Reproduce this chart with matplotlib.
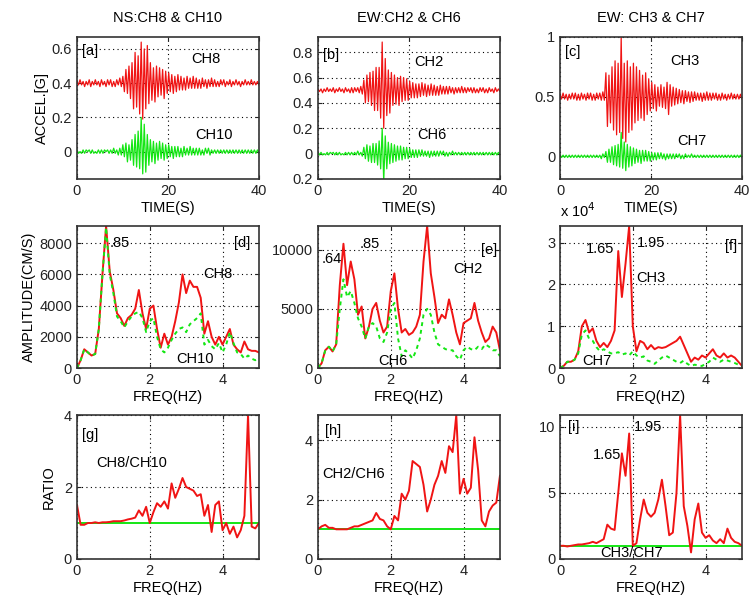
import numpy as np
import matplotlib
matplotlib.use('Agg')
import matplotlib.pyplot as plt

plt.rcParams['font.family'] = ['Liberation Sans', 'DejaVu Sans']
plt.rcParams['font.size'] = 10.5
plt.rcParams['axes.linewidth'] = 1.2

RED = '#f01414'
GREEN = '#14e614'

# acceleration traces (hundredths of g, about the plotting baseline)
ch8 = [1, -1, 2, -1, 1, -2, 1, -1, 2, -2, 1, -1, 2, -1, 1, -2, 2, -1, 1, -2, 2, -1, 2, -2, 1, -2, 2, -1, 3, -2,
       4, -5, 8, -6, 10, -9,
       12, -15, 18, -14, 16, -18, 24, -21, 20, -15, 22, -12,
       12, -10, 9, -11, 10, -8, 9, -7, 8, -9, 7, -6,
       6, -5, 5, -6, 4, -5, 5, -4, 4, -4, 3, -4, 4, -3, 3, -3, 4, -3, 3, -3, 2, -3, 3, -2, 2, -3, 2, -2, 3, -2,
       2, -2, 1, -2, 2, -1, 2, -2, 1, -1, 2, -2, 1, -1, 2, -1, 1, -2, 1, -1, 2, -1, 1, -1, 2, -1, 1, -1, 1, -1]
ch10 = [1, -1, 0, -1, 1, -1, 1, 0, 1, -1, 1, -1, 0, -1, 1, -1, 1, -1, 1, 0, 1, -1, 1, -1, 2, -1, 1, -2, 2, -2,
        4, -3, 5, -6, 4, -5,
        7, -8, 10, -9, 12, -10, 20, -13, 16, -12, 10, -8,
        7, -6, 6, -7, 5, -5, 6, -4, 5, -5, 4, -4,
        4, -3, 3, -4, 3, -3, 3, -3, 2, -3, 3, -2, 2, -2, 3, -2, 2, -2, 2, -2, 2, -2, 1, -2, 2, -1, 2, -2, 1, -1,
        1, -1, 1, -1, 1, -1, 1, -1, 1, -1, 1, -1, 1, -1, 1, -1, 1, -1, 1, -1, 1, -1, 1, -1, 1, -1, 1, -1, 1, -1]
ch2 = [1, -1, 1, -2, 1, -1, 2, -1, 1, -1, 2, -2, 1, -1, 2, -1, 1, -2, 2, -1, 1, -2, 2, -2, 2, -1, 2, -2, 3, -3,
       8, -10, 12, -9, 14, -12,
       15, -16, 18, -16, 18, -22, 38, -30, 25, -20, 16, -18,
       14, -12, 12, -11, 10, -12, 11, -9, 10, -8, 9, -8,
       7, -6, 6, -6, 5, -6, 5, -5, 6, -4, 5, -5, 4, -4, 5, -4, 4, -4, 3, -4, 4, -3, 3, -3, 3, -3, 3, -2, 2, -3,
       2, -2, 2, -2, 3, -2, 2, -2, 2, -1, 2, -2, 2, -2, 1, -2, 2, -1, 2, -2, 1, -2, 2, -1, 1, -2, 2, -1, 1, -1]
ch6 = [1, -1, 1, -1, 0, -1, 1, -1, 1, 0, 1, -1, 1, -1, 1, -1, 0, -1, 1, -1, 1, -1, 1, -1, 1, -1, 2, -1, 1, -2,
       5, -4, 7, -6, 6, -7,
       8, -7, 8, -9, 10, -12, 20, -22, 14, -12, 9, -8,
       8, -7, 7, -6, 6, -5, 6, -5, 5, -4, 5, -4,
       4, -3, 3, -3, 3, -3, 3, -2, 3, -2, 2, -2, 2, -3, 2, -2, 2, -2, 2, -2, 2, -1, 2, -2, 1, -2, 1, -1, 2, -1,
       1, -1, 1, -1, 1, -1, 1, -1, 1, -1, 1, -1, 1, -1, 1, -1, 1, -1, 1, -1, 1, -1, 1, -1, 1, -1, 1, -1, 1, -1]
ch3 = [2, -2, 3, -2, 2, -3, 2, -2, 3, -2, 3, -3, 2, -3, 3, -2, 2, -3, 3, -2, 3, -3, 2, -3, 3, -2, 3, -3, 4, -3,
       20, -25, 18, -22, 25, -28,
       30, -32, 28, -30, 50, -35, 28, -38, 30, -30, 25, -28,
       28, -22, 25, -20, 22, -18, 18, -20, 20, -15, 15, -12,
       12, -10, 10, -12, 8, -8, 10, -9, 8, -10, 12, -15, 10, -8, 8, -7, 7, -6, 6, -5, 5, -6, 5, -4, 4, -5, 4, -4, 4, -3,
       3, -3, 3, -4, 3, -3, 4, -3, 3, -3, 3, -2, 3, -3, 2, -3, 3, -2, 2, -3, 2, -2, 3, -2, 2, -2, 2, -2, 2, -2]
ch7 = [1, -1, 1, -1, 1, -1, 1, -1, 1, -1, 1, -1, 1, -1, 1, -1, 1, -1, 1, -1, 1, -1, 1, -1, 1, -1, 1, -2, 2, -1,
       4, -5, 6, -5, 8, -7,
       9, -8, 10, -9, 20, -10, 12, -12, 10, -9, 8, -8,
       7, -6, 6, -5, 5, -6, 5, -4, 5, -4, 4, -4,
       3, -3, 3, -3, 3, -2, 3, -2, 2, -3, 2, -2, 2, -2, 2, -2, 2, -1, 2, -2, 1, -2, 2, -1, 1, -1, 2, -1, 1, -1,
       1, -1, 1, -1, 1, -1, 1, -1, 1, -1, 1, -1, 1, -1, 1, -1, 1, -1, 1, -1, 1, -1, 1, -1, 1, -1, 1, -1, 1, -1]

# Fourier amplitude (cm/s), sampled every 0.1 Hz from 0 to 5 Hz
amp_ch8 = [0, 500, 1200, 1000, 800, 900, 2500, 6000, 9100, 6200, 5000, 3500, 3200, 2700, 3200, 3400, 3800, 5000,
           3500, 2500, 3800, 4000, 2500, 1300, 2200, 1500, 2000, 3000, 4200, 6000, 4800, 5600, 5200, 5200, 4500,
           2200, 3000, 2000, 1500, 2000, 1500, 2000, 2500, 1500, 1200, 1000, 1700, 1200, 1100, 1100, 1000]
amp_ch10 = [0, 500, 1200, 1000, 800, 900, 2500, 6000, 9000, 6000, 4800, 3300, 3000, 2600, 3000, 3300, 3500, 3600,
            3200, 2300, 3000, 3200, 2000, 1200, 1000, 1300, 1800, 2200, 2500, 2600, 2300, 2800, 3000, 3200, 3500,
            1500, 1800, 1400, 1200, 1600, 1000, 1500, 2300, 1600, 1000, 900, 600, 800, 600, 500, 600]
amp_ch2 = [0, 400, 1500, 1800, 1400, 2000, 7000, 10500, 7000, 9000, 7500, 4500, 5200, 2500, 3500, 5000, 5500,
           4000, 3000, 3500, 6500, 8000, 5000, 3000, 3300, 2800, 3000, 3500, 4500, 9000, 12000, 8000, 6000, 3800,
           4500, 4200, 5800, 4500, 3000, 2000, 3800, 4000, 4200, 5500, 4000, 3000, 2200, 2500, 3500, 3000, 1500]
amp_ch6 = [0, 400, 1500, 1800, 1400, 2000, 5000, 7500, 6000, 6500, 5500, 4200, 3500, 2500, 3500, 3800, 3500,
           2500, 2200, 3000, 5000, 5500, 2500, 1000, 1500, 1200, 800, 1500, 2500, 4500, 5000, 4500, 3000, 2000,
           1800, 1600, 1500, 1500, 1000, 700, 1500, 1800, 1600, 1500, 1800, 1600, 2000, 1800, 1500, 1500, 1000]
amp_ch3 = [0, 500, 1500, 1500, 2000, 4000, 10000, 11500, 8500, 9500, 6500, 5000, 6000, 5000, 6500, 9000,
           28000, 17000, 25000, 34000, 10000, 4000, 6500, 6000, 4500, 5500, 4500, 5000, 4800, 5000, 5500, 6000,
           6500, 7500, 5500, 3500, 1500, 2500, 2000, 3000, 2500, 3500, 4500, 3000, 2500, 3500, 2500, 3000, 2500,
           1500, 500]
amp_ch7 = [0, 500, 1500, 1500, 2000, 3500, 8000, 9000, 7000, 6500, 5000, 4000, 4500, 4000, 3500, 3500, 3800,
           3200, 3500, 3000, 4000, 3000, 2500, 2800, 1800, 1500, 1000, 1800, 2500, 3000, 2500, 2000, 1500, 1200,
           1800, 1000, 500, 800, 600, 500, 1000, 1500, 2500, 2000, 1500, 2000, 1800, 1500, 1200, 800, 500]

# spectral ratios, same 0.1 Hz sampling
ratio_8_10 = [1.5, 0.95, 0.95, 1.0, 1.0, 1.02, 1.0, 1.02, 1.02, 1.03, 1.05, 1.05, 1.05, 1.07, 1.1, 1.12, 1.15,
              1.35, 1.2, 1.45, 1.0, 1.3, 1.55, 1.45, 1.6, 1.4, 2.1, 1.7, 1.95, 2.25, 2.0, 1.95, 1.9, 1.75, 1.8,
              1.2, 1.5, 0.75, 1.5, 1.6, 0.8, 1.0, 0.7, 0.9, 0.6, 0.8, 1.2, 4.0, 0.9, 0.85, 1.0]
ratio_2_6 = [1.0, 1.1, 1.15, 1.05, 1.05, 1.0, 1.0, 1.0, 1.0, 1.05, 1.1, 1.1, 1.15, 1.2, 1.25, 1.3, 1.55, 1.35,
             1.3, 1.1, 1.0, 1.45, 1.3, 2.2, 2.0, 2.3, 3.3, 3.2, 3.1, 2.5, 1.6, 2.0, 2.5, 2.8, 3.3, 2.9, 3.8, 3.6,
             4.85, 2.2, 2.7, 2.2, 2.4, 4.1, 3.0, 1.3, 1.1, 1.6, 1.8, 1.9, 2.8]
ratio_3_7 = [1.0, 1.0, 0.95, 1.0, 1.05, 1.1, 1.1, 1.15, 1.2, 1.3, 1.2, 1.35, 1.5, 2.6, 2.3, 2.2, 5.0, 8.0, 6.3,
             9.5, 1.0, 1.2, 3.0, 4.5, 3.5, 3.2, 3.5, 4.5, 6.0, 4.0, 1.8, 2.0, 5.0, 10.9, 4.0, 2.5, 0.5, 3.0, 4.2,
             2.0, 1.6, 1.8, 1.4, 1.2, 1.5, 1.2, 2.3, 1.6, 1.3, 1.2, 1.0]

freq = np.linspace(0, 5, 51)

fig = plt.figure(figsize=(7.51, 6.08), dpi=100)

lefts = [0.1025, 0.4234, 0.7457]
bottoms = [0.7056, 0.3947, 0.0806]
w = 0.2423
heights = [0.2336, 0.2336, 0.2368]


def style(ax):
    ax.grid(True, color='k', linestyle=(0, (1, 3)), linewidth=0.8)
    ax.tick_params(direction='in', top=True, right=True, length=3, colors='#222222')
    for s in ax.spines.values():
        s.set_color('#333333')


axes = [[fig.add_axes([lefts[c], bottoms[r], w, heights[r]]) for c in range(3)] for r in range(3)]

# ---- top row: accelerations
top = [
    ('NS:CH8 & CH10', ch8, 0.4, ch10, (-0.16, 0.67), [0, 0.2, 0.4, 0.6], ['0', '0.2', '0.4', '0.6'],
     '[a]', 0.59, 'CH8', (25.2, 0.54), 'CH10', (26, 0.1)),
    ('EW:CH2 & CH6', ch2, 0.5, ch6, (-0.2, 0.92), [-0.2, 0, 0.2, 0.4, 0.6, 0.8],
     ['0.2', '0', '0.2', '0.4', '0.6', '0.8'], '[b]', 0.775, 'CH2', (21.1, 0.72), 'CH6', (21.8, 0.15)),
    ('EW: CH3 & CH7', ch3, 0.5, ch7, (-0.19, 1.0), [0, 0.5, 1], ['0', '0.5', '1'],
     '[c]', 0.87, 'CH3', (24.3, 0.8), 'CH7', (25.7, 0.13)),
]
for ax, (title, up, base, lo, ylim, yt, ytl, tag, tagy, n1, p1, n2, p2) in zip(axes[0], top):
    t1 = np.linspace(0, 40, len(up))
    t2 = np.linspace(0, 40, len(lo))
    ax.plot(t1, base + np.array(up) / 100.0, color=RED, lw=0.9)
    ax.plot(t2, np.array(lo) / 100.0, color=GREEN, lw=0.9)
    ax.set_xlim(0, 40)
    ax.set_ylim(*ylim)
    ax.set_xticks([0, 20, 40])
    ax.set_yticks(yt)
    ax.set_yticklabels(ytl)
    ax.set_title(title, pad=11, fontsize=10.5)
    ax.set_xlabel('TIME(S)', labelpad=2)
    ax.text(1.1, tagy, tag, va='center', ha='left')
    ax.text(p1[0], p1[1], n1, va='center', ha='left')
    ax.text(p2[0], p2[1], n2, va='center', ha='left')
    style(ax)
axes[0][0].set_ylabel('ACCEL.[G]', labelpad=2)

# ---- middle row: Fourier amplitude spectra
mid = [
    (amp_ch8, amp_ch10, 9100, [0, 2000, 4000, 6000, 8000], ['0', '2000', '4000', '6000', '8000'],
     [('.85', 0.9, 8000), ('CH8', 3.47, 6000), ('CH10', 2.74, 600)], ('[d]', 4.75, 8000)),
    (amp_ch2, amp_ch6, 12000, [0, 5000, 10000], ['0', '5000', '10000'],
     [('.64', 0.09, 9200), ('.85', 1.15, 10500), ('CH2', 3.73, 8400), ('CH6', 1.66, 600)],
     ('[e]', 4.93, 10000)),
    (amp_ch3, amp_ch7, 34000, [0, 10000, 20000, 30000], ['0', '1', '2', '3'],
     [('1.65', 0.72, 28500), ('1.95', 2.1, 30000), ('CH3', 2.1, 21500), ('CH7', 0.6, 1700)],
     ('[f]', 4.86, 29300)),
]
for ax, (a1, a2, ytop, yt, ytl, notes, tag) in zip(axes[1], mid):
    ax.plot(freq, a1, color=RED, lw=1.4)
    ax.plot(freq, a2, color=GREEN, lw=1.4, linestyle=(0, (2, 2)))
    ax.set_xlim(0, 5)
    ax.set_ylim(0, ytop)
    ax.set_xticks([0, 2, 4])
    ax.set_yticks(yt)
    ax.set_yticklabels(ytl)
    ax.set_xlabel('FREQ(HZ)', labelpad=2)
    for s, x, y in notes:
        ax.text(x, y, s, va='center', ha='left')
    ax.text(tag[1], tag[2], tag[0], va='center', ha='right')
    style(ax)
axes[1][0].set_ylabel('AMPLITUDE(CM/S)', labelpad=2)
axes[1][2].text(0.0, 1.04, r'x 10$^4$', transform=axes[1][2].transAxes, va='bottom', ha='left')

# ---- bottom row: spectral ratios
bot = [
    (ratio_8_10, 4.0, [0, 2, 4], [('[g]', 0.14, 3.45), ('CH8/CH10', 0.52, 2.67)]),
    (ratio_2_6, 4.85, [0, 2, 4], [('[h]', 0.18, 4.3), ('CH2/CH6', 0.12, 2.85)]),
    (ratio_3_7, 10.9, [0, 5, 10], [('[i]', 0.23, 10.0), ('1.95', 2.02, 10.0), ('1.65', 0.9, 7.9),
                                   ('CH3/CH7', 1.1, 0.45)]),
]
for ax, (rr, ytop, yt, notes) in zip(axes[2], bot):
    ax.axhline(1.0, color=GREEN, lw=1.4)
    ax.plot(freq, rr, color=RED, lw=1.4)
    ax.set_xlim(0, 5)
    ax.set_ylim(0, ytop)
    ax.set_xticks([0, 2, 4])
    ax.set_yticks(yt)
    ax.set_yticklabels([str(v) for v in yt])
    ax.set_xlabel('FREQ(HZ)', labelpad=2)
    for s, x, y in notes:
        ax.text(x, y, s, va='center', ha='left')
    style(ax)
axes[2][0].set_ylabel('RATIO', labelpad=6)

fig.savefig('out.png', dpi=100)
